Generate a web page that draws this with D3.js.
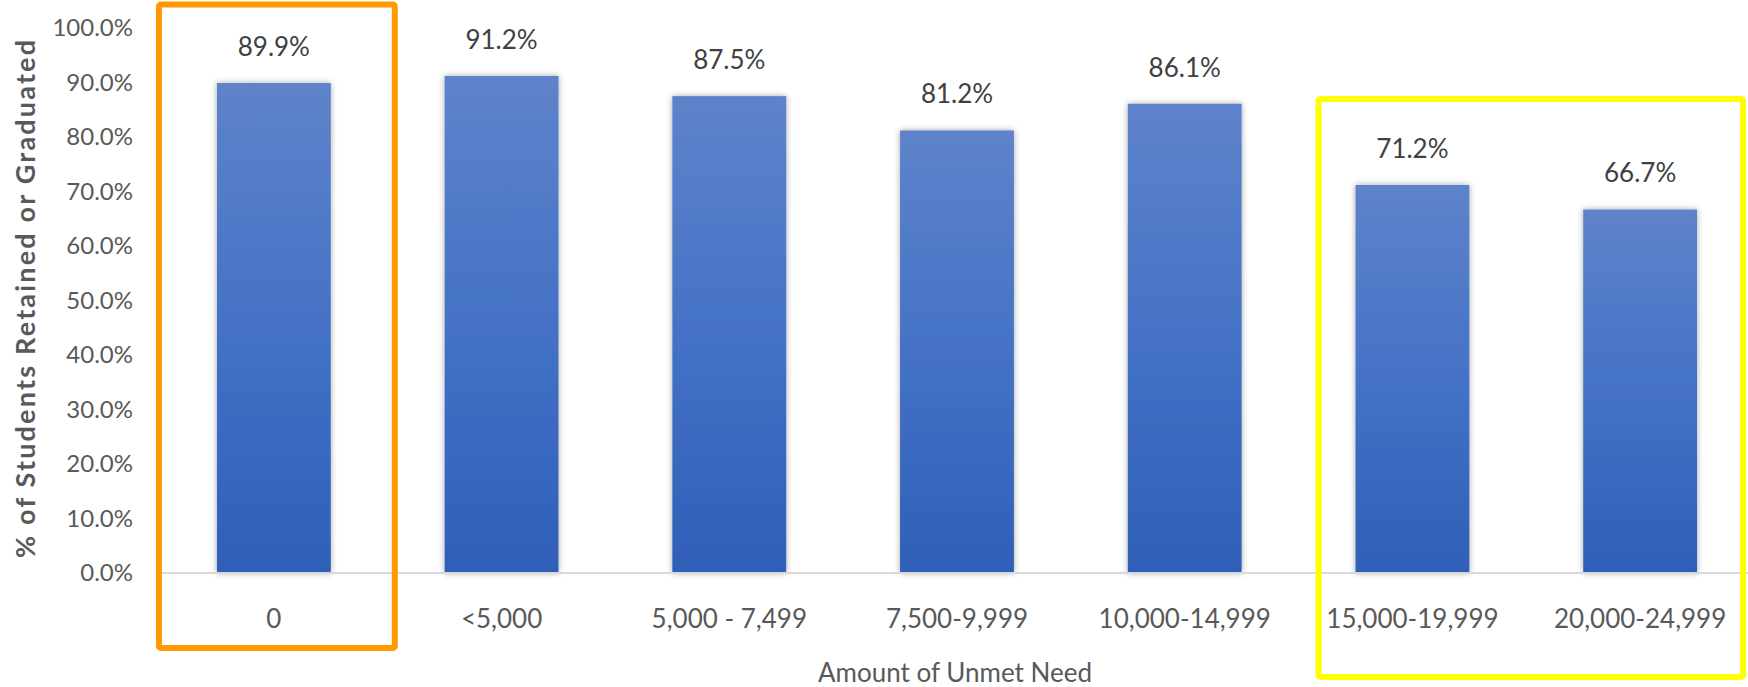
<!DOCTYPE html>
<html>
<head>
<meta charset="utf-8">
<script src="https://cdn.jsdelivr.net/npm/d3@7"></script>
<style>
  html, body { margin: 0; padding: 0; background: #fff; }
  svg { display: block; font-family: Lato, "Open Sans", sans-serif; }
</style>
</head>
<body>
<svg id="chart" width="1748" height="687"></svg>
<script>
// Retention/graduation rate by amount of unmet financial need
const categories = ["0", "<5,000", "5,000 - 7,499", "7,500-9,999", "10,000-14,999", "15,000-19,999", "20,000-24,999"];
const rates = [0.899, 0.912, 0.875, 0.812, 0.861, 0.712, 0.667];
const yTicks = [0, 0.1, 0.2, 0.3, 0.4, 0.5, 0.6, 0.7, 0.8, 0.9, 1.0];
const xTitle = "Amount of Unmet Need";
const yTitle = "% of Students Retained or Graduated";

// Highlighted category groups
const highlights = [
  { from: "0", to: "0", color: "#ff9900" },
  { from: "15,000-19,999", to: "20,000-24,999", color: "#ffff00" }
];

const W = 1748, H = 687;
const plot = { left: 160, right: 1754, top: 28, bottom: 573 };

const svg = d3.select("#chart");

const x = d3.scaleBand()
  .domain(categories)
  .range([plot.left, plot.right])
  .paddingInner(0.5)
  .paddingOuter(0.25);

const y = d3.scaleLinear()
  .domain([0, 1])
  .range([plot.bottom, plot.top]);

const pct = d3.format(".1%");

// Defs: bar gradient and soft shadow
const defs = svg.append("defs");
const grad = defs.append("linearGradient")
  .attr("id", "barGrad")
  .attr("x1", 0).attr("y1", 0).attr("x2", 0).attr("y2", 1);
grad.append("stop").attr("offset", "0%").attr("stop-color", "#5e83ca");
grad.append("stop").attr("offset", "50%").attr("stop-color", "#4472c6");
grad.append("stop").attr("offset", "100%").attr("stop-color", "#2f5fb8");

const shadow = defs.append("filter")
  .attr("id", "barShadow")
  .attr("x", "-20%").attr("y", "-5%").attr("width", "140%").attr("height", "110%");
shadow.append("feDropShadow")
  .attr("dx", 0).attr("dy", 0)
  .attr("stdDeviation", 3)
  .attr("flood-color", "#000")
  .attr("flood-opacity", 0.35);

// Y axis tick labels (no axis line)
const yAxis = d3.axisLeft(y)
  .tickValues(yTicks)
  .tickFormat(pct)
  .tickSize(0)
  .tickPadding(0);

const yAxisG = svg.append("g")
  .attr("transform", `translate(${plot.left - 27},0)`)
  .call(yAxis);
yAxisG.select(".domain").remove();
yAxisG.selectAll("text")
  .attr("fill", "#595959")
  .style("font-size", "24px")
  .style("font-family", "Lato, sans-serif");

// Bars
svg.append("g")
  .selectAll("rect")
  .data(rates)
  .join("rect")
  .attr("x", (d, i) => x(categories[i]))
  .attr("y", d => y(d))
  .attr("width", x.bandwidth())
  .attr("height", d => y(0) - y(d))
  .attr("fill", "url(#barGrad)")
  .attr("filter", "url(#barShadow)");

// Baseline
svg.append("line")
  .attr("x1", plot.left).attr("x2", plot.right)
  .attr("y1", y(0)).attr("y2", y(0))
  .attr("stroke", "#d9d9d9")
  .attr("stroke-width", 2);

// Value labels
svg.append("g")
  .selectAll("text")
  .data(rates)
  .join("text")
  .attr("x", (d, i) => x(categories[i]) + x.bandwidth() / 2)
  .attr("y", d => y(d) - 27)
  .attr("text-anchor", "middle")
  .attr("fill", "#404040")
  .style("font-size", "26px")
  .text(d => pct(d));

// X axis category labels
const xAxis = d3.axisBottom(x).tickSize(0).tickPadding(0);
const xAxisG = svg.append("g")
  .attr("transform", `translate(0,${plot.bottom})`)
  .call(xAxis);
xAxisG.select(".domain").remove();
xAxisG.selectAll("text")
  .attr("dy", null)
  .attr("y", 55)
  .attr("fill", "#595959")
  .style("font-size", "26px")
  .style("font-family", "Lato, sans-serif");

// Axis titles
svg.append("text")
  .attr("x", (plot.left + plot.right) / 2 - 2)
  .attr("y", 682)
  .attr("text-anchor", "middle")
  .attr("fill", "#595959")
  .style("font-size", "26px")
  .text(xTitle);

svg.append("text")
  .attr("transform", `translate(24,${(40 + 558) / 2}) rotate(-90)`)
  .attr("text-anchor", "middle")
  .attr("dominant-baseline", "central")
  .attr("fill", "#595959")
  .attr("textLength", 518)
  .attr("lengthAdjust", "spacing")
  .style("font-size", "27px")
  .style("font-weight", "bold")
  .text(yTitle);

// Highlight boxes around category groups
const boxPad = [
  { left: 58, right: 64, top: 4.5, bottom: 648 },
  { left: 37, right: 46, top: 99, bottom: 677 }
];
svg.append("g")
  .selectAll("rect")
  .data(highlights)
  .join("rect")
  .attr("x", (d, i) => x(d.from) - boxPad[i].left)
  .attr("y", (d, i) => boxPad[i].top)
  .attr("width", (d, i) => x(d.to) + x.bandwidth() + boxPad[i].right - (x(d.from) - boxPad[i].left))
  .attr("height", (d, i) => boxPad[i].bottom - boxPad[i].top)
  .attr("rx", 2)
  .attr("fill", "none")
  .attr("stroke", d => d.color)
  .attr("stroke-width", 6);
</script>
</body>
</html>
